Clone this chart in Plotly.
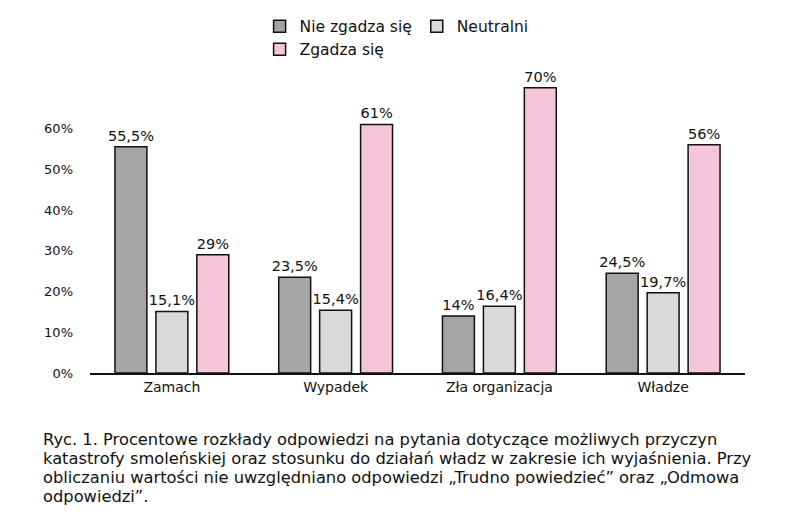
import plotly.graph_objects as go

# data
categories = ["Zamach", "Wypadek", "Zła organizacja", "Władze"]
nie_zgadza = [55.5, 23.5, 14, 24.5]
neutralni = [15.1, 15.4, 16.4, 19.7]
zgadza = [29, 61, 70, 56]
y_ticks = [0, 10, 20, 30, 40, 50, 60]
y_labels = [f"{v}%" for v in y_ticks]

caption_lines = [
    "Ryc. 1. Procentowe rozkłady odpowiedzi na pytania dotyczące możliwych przyczyn",
    "katastrofy smoleńskiej oraz stosunku do działań władz w zakresie ich wyjaśnienia. Przy",
    "obliczaniu wartości nie uwzględniano odpowiedzi „Trudno powiedzieć” oraz „Odmowa",
    "odpowiedzi”.",
]

FONT = "DejaVu Sans"


def pct(vals):
    return [f"{v:g}%".replace(".", ",") for v in vals]


def bar(name, vals, color, group):
    return go.Bar(
        name=name, x=categories, y=vals, legendgroup=group,
        marker=dict(color=color, line=dict(color="#111111", width=1.5)),
        text=pct(vals), textposition="outside", cliponaxis=False,
        constraintext="none",
        textfont=dict(family=FONT, size=14.5, color="#111111"),
    )


fig = go.Figure([
    bar("Nie zgadza się", nie_zgadza, "#a5a5a5", "a"),
    bar("Neutralni", neutralni, "#d9d9d9", "b"),
    bar("Zgadza się", zgadza, "#f5c5da", "a"),
])

# caption, one annotation per line for tighter leading
caption = []
for i, line in enumerate(caption_lines):
    caption.append(dict(
        text=line, xref="paper", yref="paper", x=-0.075, y=-0.227 - i * 0.0644,
        xanchor="left", yanchor="middle", align="left", showarrow=False,
        font=dict(family=FONT, size=16.3, color="#111111"),
    ))

fig.update_layout(
    width=800, height=523,
    margin=dict(l=82, r=63, t=70, b=158),
    paper_bgcolor="white", plot_bgcolor="white",
    font=dict(family=FONT, size=13, color="#111111"),
    barmode="group", bargap=0.25, bargroupgap=0.22,
    showlegend=True,
    legend=dict(
        orientation="h", traceorder="grouped", tracegroupgap=29,
        xref="container", yref="container", x=0.3145, y=0.997,
        xanchor="left", yanchor="top",
        font=dict(family=FONT, size=15.5, color="#111111"),
    ),
    annotations=caption,
)

fig.update_xaxes(showline=True, linecolor="#111111", linewidth=1.5,
                 ticks="", tickfont=dict(size=14), showgrid=False)
fig.update_yaxes(range=[0, 72.4], tickmode="array", tickvals=y_ticks, ticktext=y_labels,
                 showgrid=False, zeroline=False, showline=False,
                 ticks="", ticklabelstandoff=16, tickfont=dict(size=13))

fig.write_html("out.html")
